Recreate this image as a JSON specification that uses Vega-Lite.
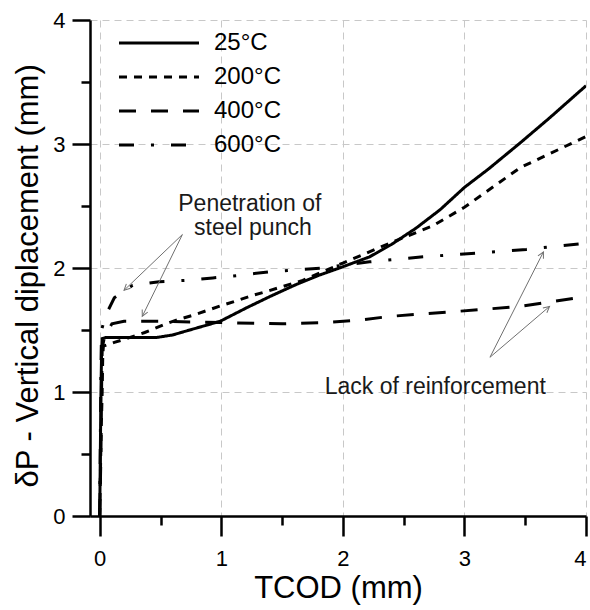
{
  "$schema": "https://vega.github.io/schema/vega-lite/v6.json",
  "width": 496,
  "height": 496,
  "autosize": {"type": "none"},
  "padding": {"left": 90, "top": 20, "right": 4, "bottom": 94},
  "background": "white",
  "config": {
    "font": "Liberation Sans",
    "view": {"stroke": null}
  },
  "datasets": {
    "curves": [
      {"series": "25°C", "x": 0, "y": 0},
      {"series": "25°C", "x": 0.005, "y": 0.5},
      {"series": "25°C", "x": 0.01, "y": 1.0},
      {"series": "25°C", "x": 0.015, "y": 1.3},
      {"series": "25°C", "x": 0.02, "y": 1.43},
      {"series": "25°C", "x": 0.05, "y": 1.44},
      {"series": "25°C", "x": 0.2, "y": 1.44},
      {"series": "25°C", "x": 0.47, "y": 1.44},
      {"series": "25°C", "x": 0.6, "y": 1.46},
      {"series": "25°C", "x": 0.74, "y": 1.5},
      {"series": "25°C", "x": 0.99, "y": 1.57},
      {"series": "25°C", "x": 1.21, "y": 1.68},
      {"series": "25°C", "x": 1.4, "y": 1.77},
      {"series": "25°C", "x": 1.6, "y": 1.86},
      {"series": "25°C", "x": 1.8, "y": 1.94},
      {"series": "25°C", "x": 2.0, "y": 2.01},
      {"series": "25°C", "x": 2.22, "y": 2.09},
      {"series": "25°C", "x": 2.4, "y": 2.19},
      {"series": "25°C", "x": 2.6, "y": 2.32},
      {"series": "25°C", "x": 2.8, "y": 2.47},
      {"series": "25°C", "x": 3.0, "y": 2.65},
      {"series": "25°C", "x": 3.2, "y": 2.8},
      {"series": "25°C", "x": 3.46, "y": 3.01},
      {"series": "25°C", "x": 3.7, "y": 3.21},
      {"series": "25°C", "x": 4.0, "y": 3.47},
      {"series": "200°C", "x": 0, "y": 0},
      {"series": "200°C", "x": 0.01, "y": 0.6},
      {"series": "200°C", "x": 0.02, "y": 1.0},
      {"series": "200°C", "x": 0.025, "y": 1.3},
      {"series": "200°C", "x": 0.03, "y": 1.37},
      {"series": "200°C", "x": 0.12, "y": 1.4},
      {"series": "200°C", "x": 0.25, "y": 1.44},
      {"series": "200°C", "x": 0.37, "y": 1.48},
      {"series": "200°C", "x": 0.52, "y": 1.54},
      {"series": "200°C", "x": 0.63, "y": 1.58},
      {"series": "200°C", "x": 0.77, "y": 1.62},
      {"series": "200°C", "x": 0.89, "y": 1.66},
      {"series": "200°C", "x": 1.01, "y": 1.7},
      {"series": "200°C", "x": 1.14, "y": 1.74},
      {"series": "200°C", "x": 1.26, "y": 1.78},
      {"series": "200°C", "x": 1.37, "y": 1.81},
      {"series": "200°C", "x": 1.67, "y": 1.9},
      {"series": "200°C", "x": 2.0, "y": 2.04},
      {"series": "200°C", "x": 2.41, "y": 2.21},
      {"series": "200°C", "x": 2.74, "y": 2.34},
      {"series": "200°C", "x": 3.0, "y": 2.49},
      {"series": "200°C", "x": 3.46, "y": 2.81},
      {"series": "200°C", "x": 4.0, "y": 3.06},
      {"series": "400°C", "x": 0, "y": 0},
      {"series": "400°C", "x": 0.01, "y": 0.5},
      {"series": "400°C", "x": 0.015, "y": 1.0},
      {"series": "400°C", "x": 0.02, "y": 1.35},
      {"series": "400°C", "x": 0.04, "y": 1.45},
      {"series": "400°C", "x": 0.1, "y": 1.55},
      {"series": "400°C", "x": 0.2, "y": 1.57},
      {"series": "400°C", "x": 0.5, "y": 1.57},
      {"series": "400°C", "x": 1.0, "y": 1.56},
      {"series": "400°C", "x": 1.5, "y": 1.55},
      {"series": "400°C", "x": 1.85, "y": 1.56},
      {"series": "400°C", "x": 2.14, "y": 1.58},
      {"series": "400°C", "x": 2.39, "y": 1.61},
      {"series": "400°C", "x": 2.94, "y": 1.65},
      {"series": "400°C", "x": 3.46, "y": 1.69},
      {"series": "400°C", "x": 4.0, "y": 1.77},
      {"series": "600°C", "x": 0, "y": 0},
      {"series": "600°C", "x": 0.005, "y": 0.6},
      {"series": "600°C", "x": 0.01, "y": 1.2},
      {"series": "600°C", "x": 0.015, "y": 1.5},
      {"series": "600°C", "x": 0.05, "y": 1.62},
      {"series": "600°C", "x": 0.12, "y": 1.76},
      {"series": "600°C", "x": 0.27, "y": 1.86},
      {"series": "600°C", "x": 0.49, "y": 1.89},
      {"series": "600°C", "x": 0.71, "y": 1.9},
      {"series": "600°C", "x": 0.93, "y": 1.92},
      {"series": "600°C", "x": 1.14, "y": 1.94},
      {"series": "600°C", "x": 1.4, "y": 1.97},
      {"series": "600°C", "x": 1.83, "y": 2.0},
      {"series": "600°C", "x": 2.22, "y": 2.05},
      {"series": "600°C", "x": 2.66, "y": 2.09},
      {"series": "600°C", "x": 3.09, "y": 2.12},
      {"series": "600°C", "x": 3.51, "y": 2.15},
      {"series": "600°C", "x": 4.0, "y": 2.2}
    ],
    "arrows": [
      {"x": 0.68, "y": 2.27, "x2": 0.2, "y2": 1.82},
      {"x": 0.68, "y": 2.27, "x2": 0.35, "y2": 1.61},
      {"x": 3.21, "y": 1.28, "x2": 3.65, "y2": 2.13},
      {"x": 3.21, "y": 1.28, "x2": 3.7, "y2": 1.69}
    ],
    "notes": [
      {"x": 1.235, "y": 2.52, "text": "Penetration of"},
      {"x": 1.26, "y": 2.32, "text": "steel punch"},
      {"x": 2.76, "y": 1.04, "text": "Lack of reinforcement"}
    ]
  },
  "resolve": {"axis": {"x": "independent", "y": "independent"}},
  "layer": [
    {
      "data": {"name": "curves"},
      "mark": {"type": "line", "color": "black", "strokeWidth": 3, "strokeCap": "butt", "clip": true},
      "encoding": {
        "x": {
          "field": "x", "type": "quantitative",
          "scale": {"domain": [-0.08, 4], "nice": false, "zero": false},
          "axis": {
            "orient": "bottom",
            "values": [0, 1, 2, 3, 4],
            "format": "d",
            "title": "TCOD (mm)",
            "labelPadding": 12, "labelFontSize": 22, "labelColor": "black",
            "domainColor": "black", "domainWidth": 2.5,
            "tickColor": "black", "tickWidth": 2.5, "tickSize": 20,
            "grid": true, "gridColor": "#c8c8c8", "gridDash": [7, 5], "gridWidth": 1,
            "titleFontSize": 31, "titleFontWeight": "normal", "titleColor": "black", "titlePadding": 4
          }
        },
        "y": {
          "field": "y", "type": "quantitative",
          "scale": {"domain": [0, 4], "nice": false},
          "axis": {
            "orient": "left",
            "values": [0, 1, 2, 3, 4],
            "format": "d",
            "title": "δP - Vertical diplacement (mm)",
            "labelPadding": 7, "labelFontSize": 22, "labelColor": "black",
            "domainColor": "black", "domainWidth": 2.5,
            "tickColor": "black", "tickWidth": 2.5, "tickSize": 18,
            "grid": true, "gridColor": "#c8c8c8", "gridDash": [7, 5], "gridWidth": 1,
            "titleFontSize": 31, "titleFontWeight": "normal", "titleColor": "black", "titlePadding": 8,
            "titleAnchor": "start", "titleY": 467
          }
        },
        "strokeDash": {
          "field": "series", "type": "nominal",
          "scale": {"domain": ["25°C", "200°C", "400°C", "600°C"], "range": [[1, 0], [8, 7], [17, 15], [15, 17, 3, 17]]},
          "legend": {
            "title": null, "orient": "none", "legendX": 57, "legendY": 11,
            "symbolType": "M-4,0H4", "symbolSize": 400, "symbolStrokeWidth": 3, "symbolStrokeColor": "black", "symbolFillColor": "transparent",
            "labelFontSize": 24, "labelColor": "black", "labelOffset": 43, "rowPadding": 10, "padding": 0
          }
        },
        "order": {"value": null}
      }
    },
    {
      "data": {"name": "arrows"},
      "mark": {"type": "rule", "color": "#707070", "strokeWidth": 1},
      "encoding": {
        "x": {
          "field": "x", "type": "quantitative",
          "axis": {
            "orient": "bottom", "values": [0.5, 1.5, 2.5, 3.5], "labels": false, "grid": false, "domain": false, "title": null,
            "tickColor": "black", "tickWidth": 2.5, "tickSize": 9
          }
        },
        "y": {
          "field": "y", "type": "quantitative",
          "axis": {
            "orient": "left", "values": [0.5, 1.5, 2.5, 3.5], "labels": false, "grid": false, "domain": false, "title": null,
            "tickColor": "black", "tickWidth": 2.5, "tickSize": 9
          }
        },
        "x2": {"field": "x2"},
        "y2": {"field": "y2"}
      }
    },
    {
      "data": {"name": "arrows"},
      "transform": [{"calculate": "atan2((datum.x2 - datum.x) * 121.5, (datum.y2 - datum.y) * 124) * 180 / PI", "as": "ang"}],
      "mark": {"type": "point", "shape": "M-0.5,1L0,0L0.5,1", "filled": false, "stroke": "#707070", "strokeWidth": 1, "size": 150, "opacity": 1},
      "encoding": {
        "x": {"field": "x2", "type": "quantitative", "axis": null},
        "y": {"field": "y2", "type": "quantitative", "axis": null},
        "angle": {"field": "ang", "type": "quantitative", "scale": null}
      }
    },
    {
      "data": {"name": "notes"},
      "mark": {"type": "text", "fontSize": 23, "color": "#1a1a1a", "align": "center", "baseline": "middle"},
      "encoding": {
        "x": {"field": "x", "type": "quantitative", "axis": null},
        "y": {"field": "y", "type": "quantitative", "axis": null},
        "text": {"field": "text"}
      }
    }
  ]
}
